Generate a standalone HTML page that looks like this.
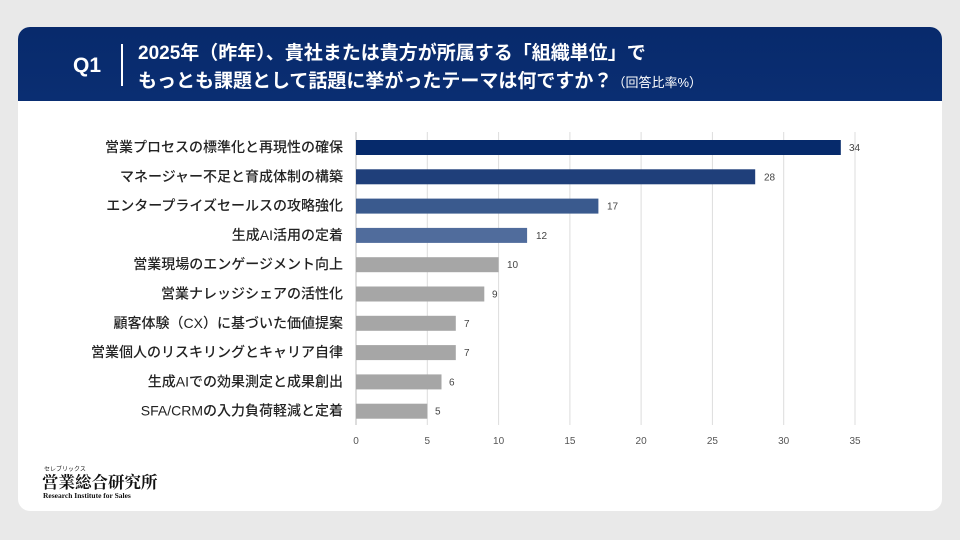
<!DOCTYPE html>
<html><head><meta charset="utf-8"><style>
body{margin:0;width:960px;height:540px;background:#e9e9e9;font-family:"Liberation Sans","Noto Sans CJK JP",sans-serif;position:relative;overflow:hidden}
.card{position:absolute;left:18px;top:27px;width:924px;height:484px;background:#fff;border-radius:12px;overflow:hidden}
.hd{position:absolute;left:0;top:0;width:924px;height:74px;background:linear-gradient(#082a6c,#0a2e72)}
.q{position:absolute;left:55px;top:27px;color:#fff;font-weight:bold;font-size:21px}
.bar1{position:absolute;left:103px;top:17px;width:2px;height:42px;background:#fff}
.t{position:absolute;left:120px;color:#fff;font-weight:bold;font-size:19px;white-space:nowrap}
.s{font-size:13px;font-weight:normal}
</style></head><body>
<div class="card">
<div class="hd">
<div class="q">Q1</div><div class="bar1"></div>
<div class="t" style="top:11px">2025年（昨年）、貴社または貴方が所属する「組織単位」で</div>
<div class="t" style="top:39px">もっとも課題として話題に挙がったテーマは何ですか？<span class="s">（回答比率%）</span></div>
</div>
</div>
<svg width="960" height="540" style="position:absolute;left:0;top:0" font-family="Liberation Sans, Noto Sans CJK JP, sans-serif">
<g stroke="#dcdcdc" stroke-width="1">
<line x1="427.3" y1="132" x2="427.3" y2="425"/><line x1="498.6" y1="132" x2="498.6" y2="425"/><line x1="569.9" y1="132" x2="569.9" y2="425"/><line x1="641.1" y1="132" x2="641.1" y2="425"/><line x1="712.4" y1="132" x2="712.4" y2="425"/><line x1="783.7" y1="132" x2="783.7" y2="425"/><line x1="855" y1="132" x2="855" y2="425"/>
</g>
<line x1="356" y1="132" x2="356" y2="425" stroke="#bbb"/>
<g font-size="10" fill="#555" text-anchor="middle">
<text x="356" y="444">0</text><text x="427.3" y="444">5</text><text x="498.6" y="444">10</text><text x="569.9" y="444">15</text><text x="641.1" y="444">20</text><text x="712.4" y="444">25</text><text x="783.7" y="444">30</text><text x="855" y="444">35</text>
</g>
<g>
<rect x="356" y="140" width="484.8" height="15" fill="#062a6b"/>
<rect x="356" y="169.3" width="399.2" height="15" fill="#1f3f7a"/>
<rect x="356" y="198.6" width="242.4" height="15" fill="#3a5a8e"/>
<rect x="356" y="227.9" width="171.1" height="15" fill="#506c9c"/>
<rect x="356" y="257.2" width="142.6" height="15" fill="#a6a6a6"/>
<rect x="356" y="286.5" width="128.3" height="15" fill="#a6a6a6"/>
<rect x="356" y="315.8" width="99.8" height="15" fill="#a6a6a6"/>
<rect x="356" y="345.1" width="99.8" height="15" fill="#a6a6a6"/>
<rect x="356" y="374.4" width="85.5" height="15" fill="#a6a6a6"/>
<rect x="356" y="403.7" width="71.3" height="15" fill="#a6a6a6"/>
</g>
<g font-size="10" fill="#444">
<text x="849" y="151">34</text><text x="764" y="180.3">28</text><text x="607" y="209.6">17</text><text x="536" y="238.9">12</text><text x="507" y="268.2">10</text><text x="492" y="297.5">9</text><text x="464" y="326.8">7</text><text x="464" y="356.1">7</text><text x="449" y="385.4">6</text><text x="435" y="414.7">5</text>
</g>
<g font-size="14" fill="#222" font-weight="500" text-anchor="end">
<text x="343" y="152">営業プロセスの標準化と再現性の確保</text>
<text x="343" y="181.3">マネージャー不足と育成体制の構築</text>
<text x="343" y="210.6">エンタープライズセールスの攻略強化</text>
<text x="343" y="239.9">生成AI活用の定着</text>
<text x="343" y="269.2">営業現場のエンゲージメント向上</text>
<text x="343" y="298.5">営業ナレッジシェアの活性化</text>
<text x="343" y="327.8">顧客体験（CX）に基づいた価値提案</text>
<text x="343" y="357.1">営業個人のリスキリングとキャリア自律</text>
<text x="343" y="386.4">生成AIでの効果測定と成果創出</text>
<text x="343" y="415.7">SFA/CRMの入力負荷軽減と定着</text>
</g>
<text x="44" y="471" font-size="6" fill="#222">セレブリックス</text>
<text x="42" y="488" font-size="16.5" font-weight="bold" fill="#111" font-family="Noto Serif CJK SC, serif">営業総合研究所</text>
<text x="43" y="498" font-size="7.5" font-weight="bold" fill="#111" font-family="Liberation Serif, serif">Research Institute for Sales</text>
</svg>
</body></html>
